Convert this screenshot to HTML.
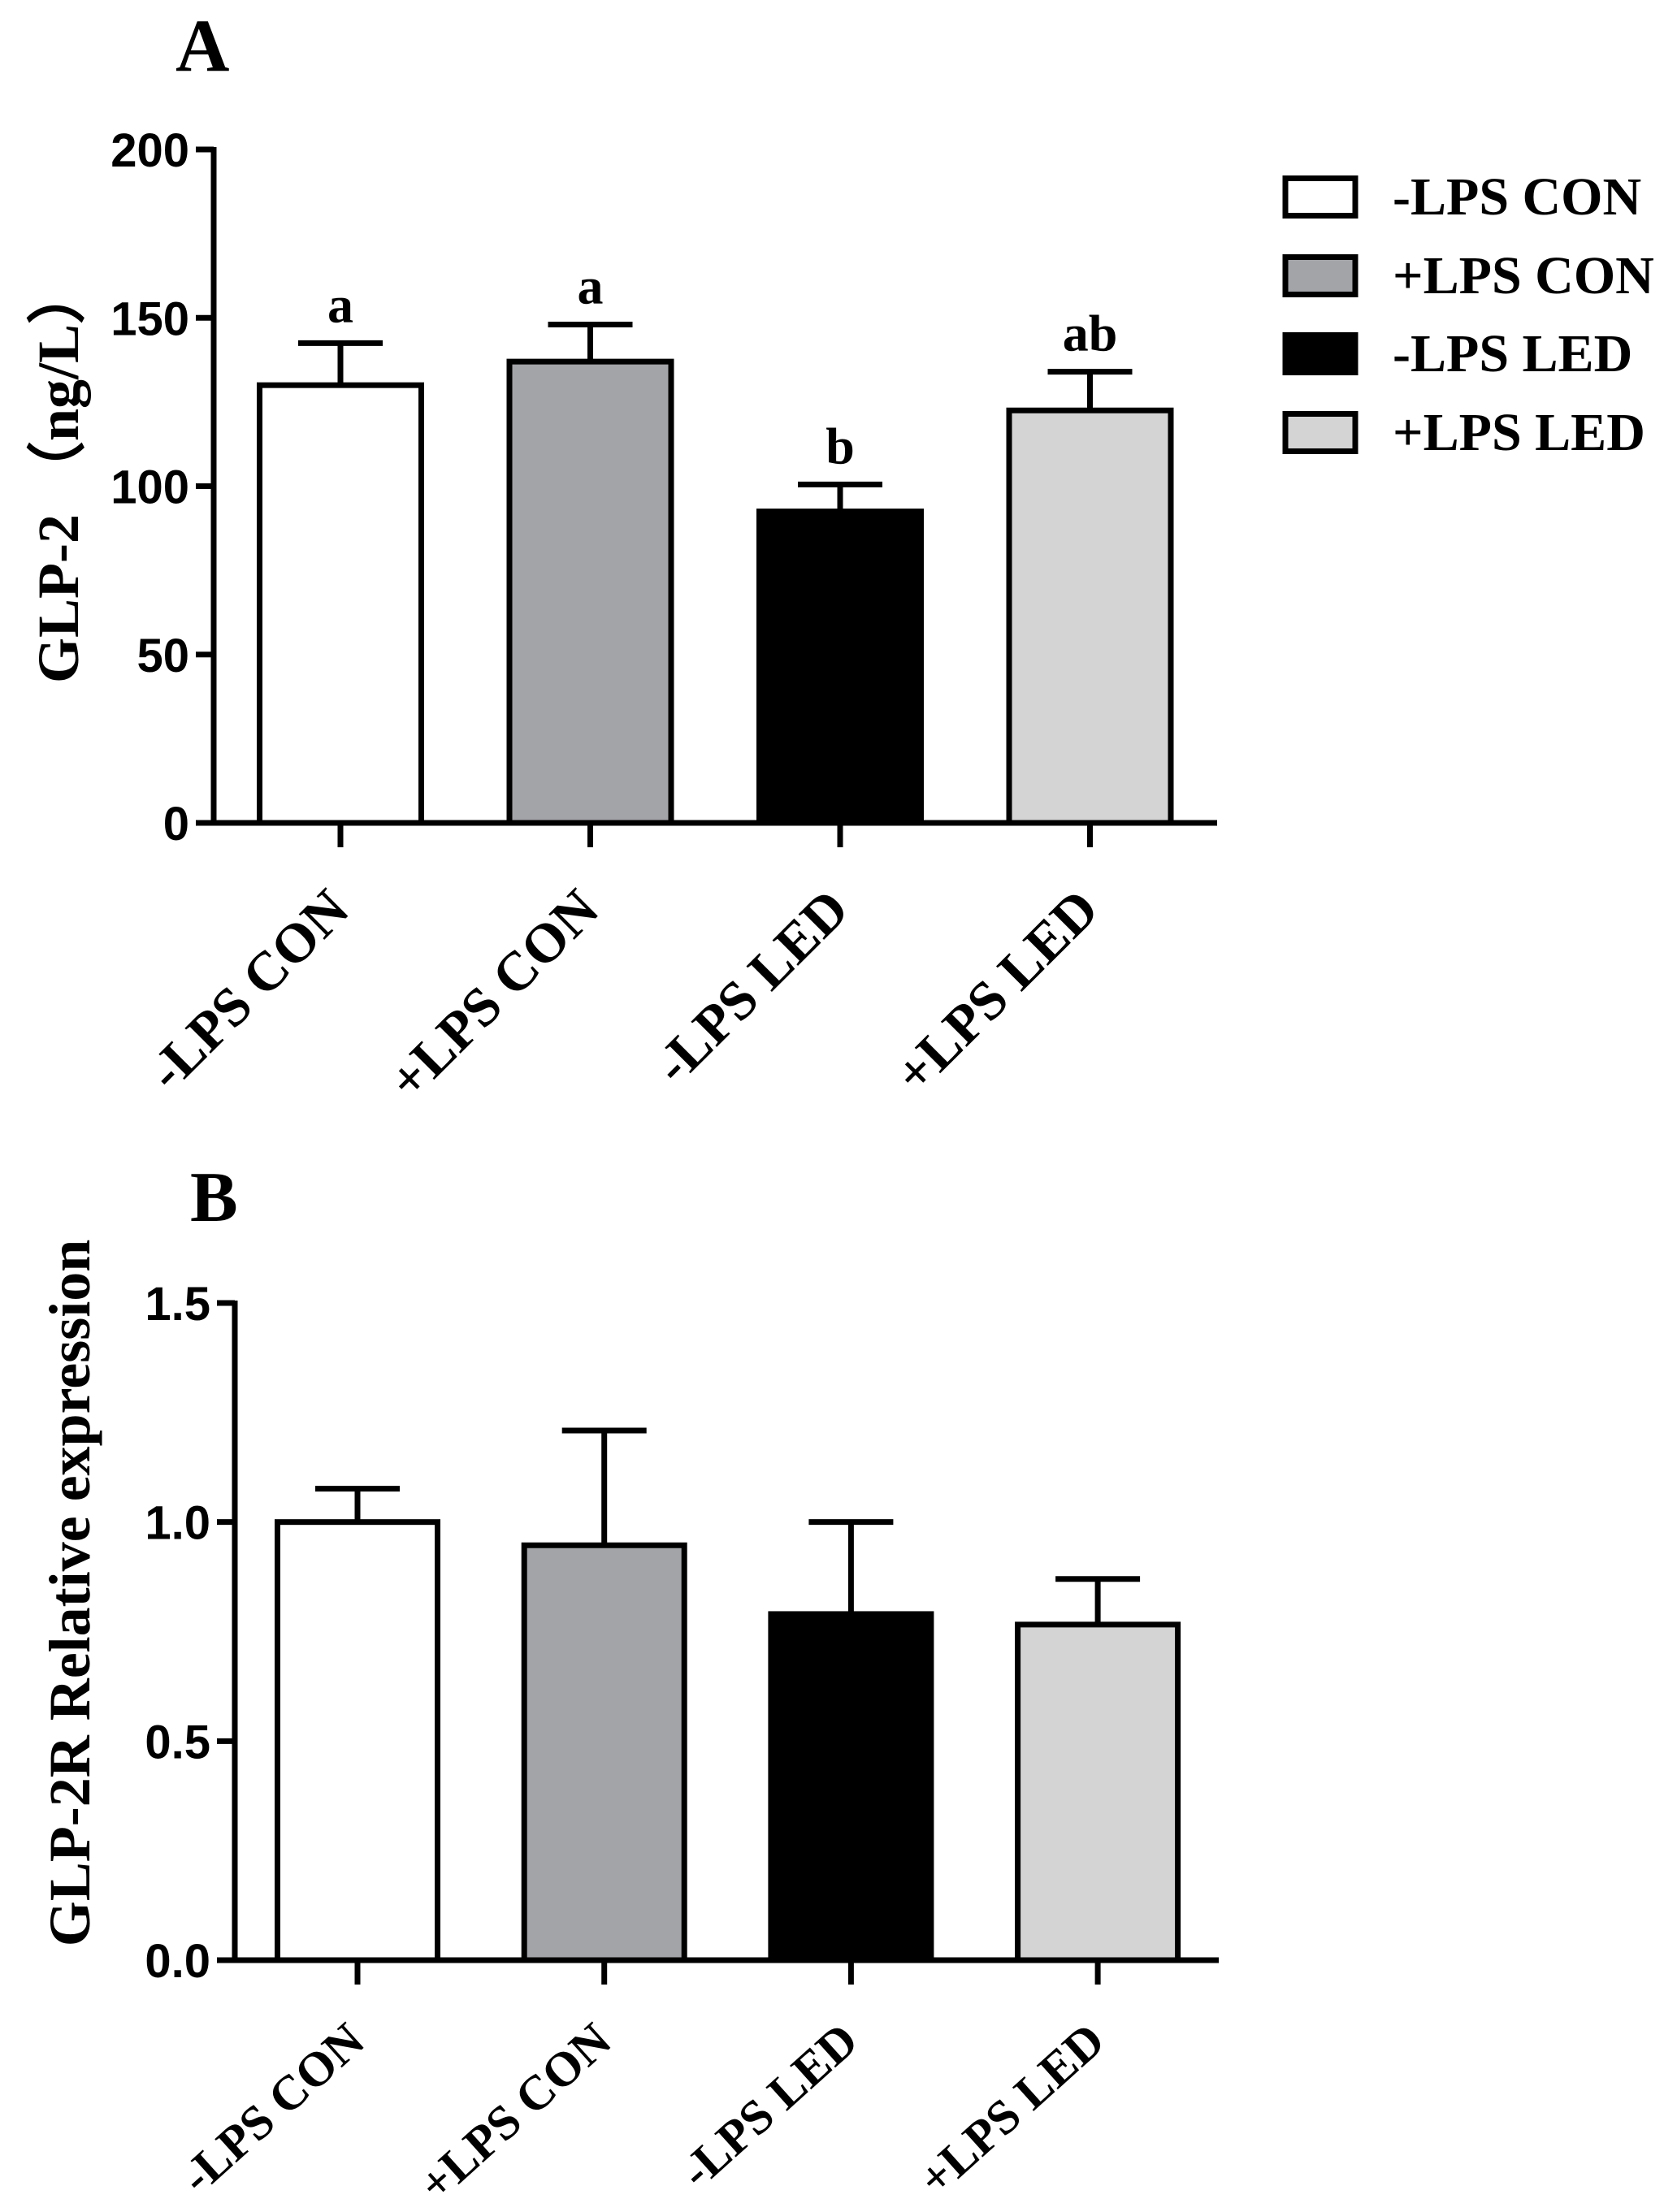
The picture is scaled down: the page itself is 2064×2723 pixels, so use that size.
<!DOCTYPE html>
<html><head><meta charset="utf-8"><style>
html,body{margin:0;padding:0;background:#fff;}
svg{display:block;}
.tick{font-family:"Liberation Sans",sans-serif;font-weight:bold;font-size:58px;}
.serif{font-family:"Liberation Serif",serif;font-weight:bold;}
</style></head><body>
<svg id="chart" width="2064" height="2723" viewBox="0 0 2064 2723" xmlns="http://www.w3.org/2000/svg">
<g id="gA"></g>
<g id="gB"></g>
<g id="legend"></g>
</svg>
<script>
const categories = ["-LPS CON", "+LPS CON", "-LPS LED", "+LPS LED"];
const fills = ["#ffffff", "#a3a4a8", "#000000", "#d4d4d4"];
const valuesA = [130, 137, 92.5, 122.5];
const errorsA = [12.5, 11, 8, 11.5];
const lettersA = ["a", "a", "b", "ab"];
const ticksA = [0, 50, 100, 150, 200];
const tickLabelsA = ["0", "50", "100", "150", "200"];
const valuesB = [1.0, 0.947, 0.79, 0.766];
const errorsB = [0.076, 0.262, 0.21, 0.104];
const ticksB = [0, 0.5, 1.0, 1.5];
const tickLabelsB = ["0.0", "0.5", "1.0", "1.5"];

const NS = "http://www.w3.org/2000/svg";
function mk(parent, tag, attrs, text){
  const e = document.createElementNS(NS, tag);
  for (const k in attrs) e.setAttribute(k, attrs[k]);
  if (text !== undefined) e.textContent = text;
  parent.appendChild(e);
  return e;
}

function drawPanel(g, cfg){
  const y = v => cfg.y0 - (v - cfg.min) / (cfg.max - cfg.min) * (cfg.y0 - cfg.yTop);
  const x = i => cfg.x0 + i * cfg.step;
  const pl = mk(g, "text", {x: cfg.titleX, y: cfg.titleY, class: "serif", "font-size": cfg.titleSize}, cfg.title);
  
  
  const yt = mk(g, "text", {x: 0, y: 0, class: "serif", "font-size": cfg.yTitleSize, "text-anchor": "middle",
    transform: "translate(" + cfg.yTitleX + "," + cfg.yTitleY + ") rotate(-90)"}, cfg.yTitle);
  
  
  cfg.values.forEach((v, i) => {
    const cx = x(i);
    const top = y(v);
    const r = mk(g, "rect", {x: cx - cfg.bw/2 + 3, y: top, width: cfg.bw - 6, height: cfg.y0 - top,
      fill: fills[i], stroke: "#000", "stroke-width": 7});
    
    
    const et = y(v + cfg.errors[i]);
    const el = mk(g, "path", {d: "M" + cx + " " + top + " V" + et + " M" + (cx - 52) + " " + et + " H" + (cx + 52),
      stroke: "#000", "stroke-width": 7, fill: "none"});
    
    
    if (cfg.letters) {
      const lt = mk(g, "text", {x: cx, y: et - 26, class: "serif", "font-size": 64, "text-anchor": "middle"}, cfg.letters[i]);
      
      
    }
    const xt = mk(g, "line", {x1: cx, x2: cx, y1: cfg.y0, y2: cfg.y0 + 30, stroke: "#000", "stroke-width": 7});
    
    
    const ax = cx + cfg.lblDx, ay = cfg.y0 + cfg.lblDy;
    const xl = mk(g, "text", {x: 0, y: 0, class: "serif", "font-size": cfg.lblSize, "text-anchor": "end",
      transform: "translate(" + ax + "," + ay + ") rotate(" + (-cfg.lblAngle) + ")"}, categories[i]);
    
    
  });
  const ya = mk(g, "line", {x1: cfg.axX, x2: cfg.axX, y1: cfg.yTop - 3, y2: cfg.y0 + 3, stroke: "#000", "stroke-width": 7});
  
  
  const xa = mk(g, "line", {x1: cfg.axX - 22, x2: cfg.xEnd, y1: cfg.y0, y2: cfg.y0, stroke: "#000", "stroke-width": 7});
  
  
  cfg.ticks.forEach((t, i) => {
    const ty = y(t);
    const tl = mk(g, "line", {x1: cfg.axX - 22, x2: cfg.axX, y1: ty, y2: ty, stroke: "#000", "stroke-width": 7});
    
    
    const tx = mk(g, "text", {x: cfg.axX - 30, y: ty + 21, class: "tick", "text-anchor": "end"}, cfg.tickLabels[i]);
    
    
  });
}

drawPanel(document.getElementById("gA"), {
  min: 0, max: 200, y0: 1013, yTop: 184, x0: 419, step: 307.5, bw: 205, axX: 263, xEnd: 1498,
  values: valuesA, errors: errorsA, letters: lettersA, ticks: ticksA, tickLabels: tickLabelsA,
  title: "A", titleX: 216, titleY: 87, titleSize: 92,
  yTitle: "GLP-2 （ng/L）", yTitleX: 96, yTitleY: 584, yTitleSize: 72,
  lblDx: 14, lblDy: 110, lblSize: 68, lblAngle: 45
});
drawPanel(document.getElementById("gB"), {
  min: 0, max: 1.5, y0: 2413, yTop: 1604, x0: 440, step: 303.7, bw: 203, axX: 289, xEnd: 1500,
  values: valuesB, errors: errorsB, letters: null, ticks: ticksB, tickLabels: tickLabelsB,
  title: "B", titleX: 234, titleY: 1503, titleSize: 88,
  yTitle: "GLP-2R Relative expression", yTitleX: 110, yTitleY: 1961, yTitleSize: 72,
  lblDx: 12, lblDy: 104, lblSize: 60, lblAngle: 42
});

const lg = document.getElementById("legend");
const legendRows = [216, 313, 409, 506];
categories.forEach((c, i) => {
  const ry = legendRows[i];
  const b = mk(lg, "rect", {x: 1582, y: ry + 3.5, width: 86, height: 46, fill: fills[i], stroke: "#000", "stroke-width": 7});
  
  
  const t = mk(lg, "text", {x: 1714, y: ry + 48, class: "serif", "font-size": 66}, c);
  
  
});
</script>
</body></html>
